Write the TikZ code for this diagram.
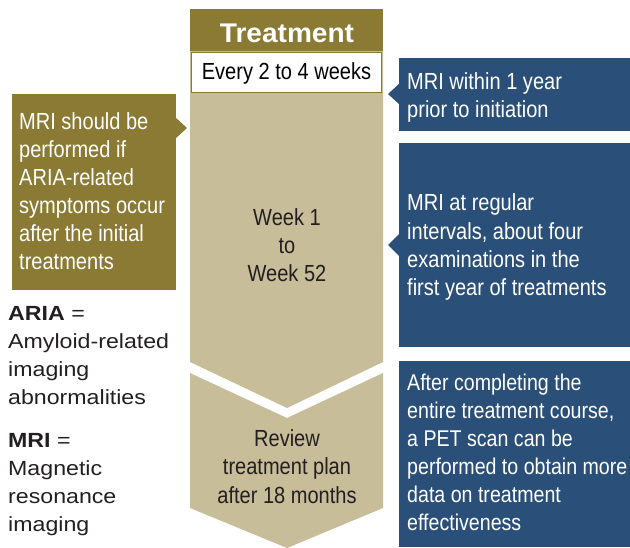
\documentclass[tikz,border=0pt]{standalone}
\usepackage{fontspec}
\setmainfont{Liberation Sans}
\newfontfamily\condfont{Liberation Sans}[FakeStretch=0.86]
\newfontfamily\legfont{Liberation Sans}[FakeStretch=1.13]
\newfontfamily\headfont{Liberation Sans}[FakeStretch=1.04]
\definecolor{olive}{HTML}{8B7A33}
\definecolor{tan}{HTML}{C7BD99}
\definecolor{navy}{HTML}{2A4F78}
\definecolor{ink}{HTML}{231F20}
\begin{document}
\begin{tikzpicture}[x=1pt,y=-1pt,
  maintext/.style={inner sep=0pt,font=\condfont\fontsize{23.3}{28.3}\selectfont},
  whitetext/.style={maintext,text=white,align=left,anchor=north west},
  darktext/.style={maintext,text=ink,align=center,anchor=north},
  legtext/.style={inner sep=0pt,font=\legfont\fontsize{20.5}{28}\selectfont,text=ink,align=left,anchor=north west}]
\useasboundingbox (0,0) rectangle (630,548);
% chevrons
\fill[tan] (190,50) -- (383,50) -- (383,362) -- (287,408) -- (190,362) -- cycle;
\fill[tan] (190,373) -- (287,418) -- (383,373) -- (383,508) -- (287,548) -- (190,508) -- cycle;
% header
\fill[olive] (190,9) rectangle (383,51);
\node[inner sep=0pt,anchor=base,text=white,font=\headfont\bfseries\fontsize{27}{30}\selectfont] (head) at (287,42.7) {Treatment};
\draw[olive,line width=1.5pt,fill=white] (191.5,52.5) rectangle (381.5,92.5);
\node[maintext,anchor=base,text=black] (every) at (286.5,79.5) {Every 2 to 4 weeks};
% left box
\fill[olive] (12,94) rectangle (176,290);
\fill[olive] (175,117) -- (187,128) -- (175,139) -- cycle;
\node[whitetext,font=\condfont\fontsize{23.3}{28}\selectfont] (left) at (19,112.5) {MRI should be\\performed if\\ARIA-related\\symptoms occur\\after the initial\\treatments};
% right boxes
\fill[navy] (399,58) rectangle (630,131);
\fill[navy] (400,83) -- (388,94) -- (400,105) -- cycle;
\node[whitetext] (r1) at (407,72.5) {MRI within 1 year\\prior to initiation};
\fill[navy] (399,143) rectangle (630,347);
\fill[navy] (400,233) -- (388,245) -- (400,257) -- cycle;
\node[whitetext] (r2) at (407,193.8) {MRI at regular\\intervals, about four\\examinations in the\\first year of treatments};
\fill[navy] (399,361) rectangle (630,547);
\node[whitetext,font=\condfont\fontsize{22.8}{28}\selectfont] (r3) at (407,373.5) {After completing the\\entire treatment course,\\a PET scan can be\\performed to obtain more\\data on treatment\\effectiveness};
% centre texts
\node[darktext] (week) at (287,208) {Week 1\\to\\Week 52};
\node[darktext] (review) at (287,429.5) {Review\\treatment plan\\after 18 months};
% legend
\node[legtext] (legA) at (8,306.5) {\textbf{ARIA} =\\Amyloid-related\\imaging\\abnormalities};
\node[legtext] (legM) at (8,433.5) {\textbf{MRI} =\\Magnetic\\resonance\\imaging};
\end{tikzpicture}
\end{document}
